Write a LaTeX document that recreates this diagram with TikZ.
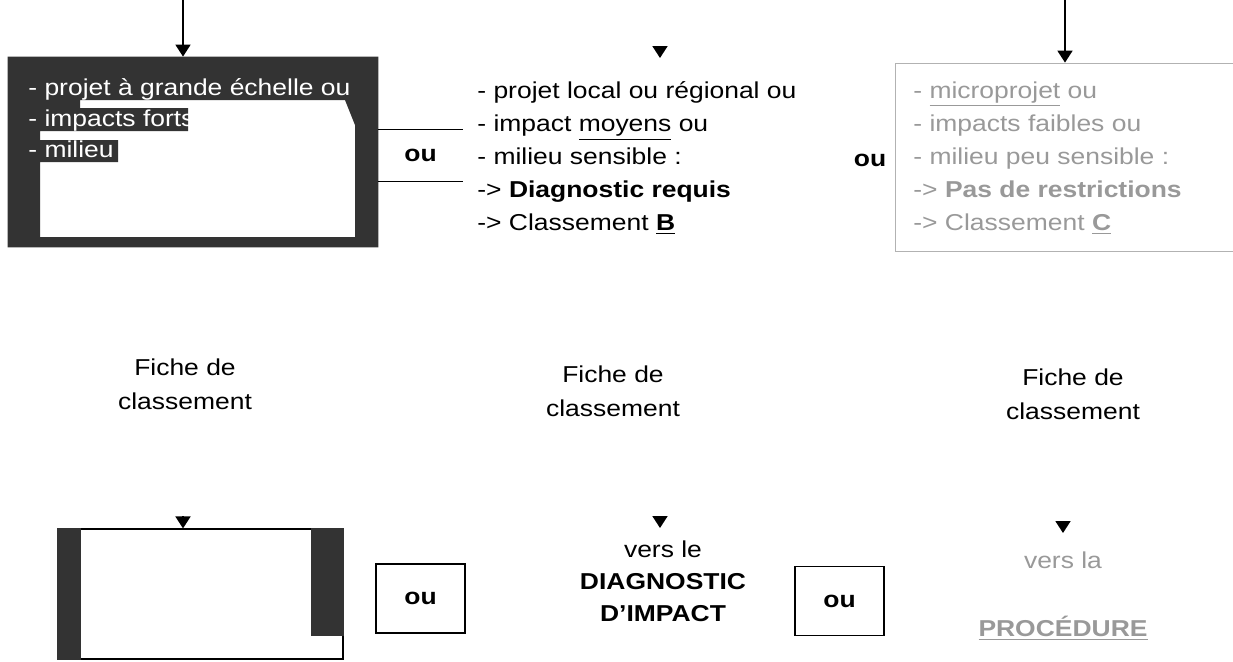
\documentclass[tikz,border=0pt]{standalone}
\usepackage{fontspec}
\setmainfont[FakeStretch=1.15]{Liberation Sans}
\usetikzlibrary{arrows.meta}

\tikzset{
  txt/.style={inner sep=0pt, align=left, font=\fontsize{11.5}{16.5}\selectfont},
  ctxt/.style={inner sep=0pt, align=center, font=\fontsize{11.5}{17}\selectfont},
  faded/.style={text=black!40},
  oubox/.style={draw, line width=0.6pt, inner sep=0pt, minimum width=44.5pt,
    minimum height=34.5pt, font=\bfseries\fontsize{11.5}{14}\selectfont},
  arr/.style={line width=0.9pt, -{Triangle[length=6pt,width=7.5pt]}},
}

\begin{document}
\begin{tikzpicture}[x=0.5pt,y=-0.5pt]
\useasboundingbox (0,0) rectangle (1233,661);

% rangee du haut
\node (boxA) [inner sep=0pt, minimum width=185pt, minimum height=95pt] at (193,152) {};
\fill[black!80, even odd rule] (boxA.north west) rectangle (boxA.south east)
  (80,100) -- (345,100) -- (355,125) -- (355,237) -- (40,237) -- (40,162)
  -- (118,162) -- (118,140) -- (40,140) -- (40,131) -- (188,131) -- (188,108)
  -- (80,108) -- cycle;
\node[txt, text=white, anchor=north west, font=\fontsize{11.5}{15.5}\selectfont] (critA) at (28,78)
  {- projet à grande échelle ou\\- impacts forts ou\\- milieu fragile :};
\coordinate (inA) at (183,0);
\draw[arr] (inA) -- (inA |- boxA.north);

\node (ouA) [inner sep=0pt, minimum width=42.5pt, minimum height=25.5pt,
  font=\bfseries\fontsize{11.5}{14}\selectfont] at (420.5,155.5) {ou};
\draw[line width=0.6pt] (ouA.north west) -- (ouA.north east)
  (ouA.south west) -- (ouA.south east);

\coordinate (inB) at (660,46);
\coordinate (tipB) at (660,58);
\draw[arr] (inB) -- (tipB);
\node[txt, anchor=north west] (critB) at (477,81)
  {- projet local ou régional ou\\- impact \underline{moyens} ou\\- milieu sensible :\\
   -> \textbf{Diagnostic requis}\\-> Classement \textbf{\underline{B}}};

\node (ouB) [font=\bfseries\fontsize{11.5}{14}\selectfont] at (870,160) {ou};

\node (boxC) [draw=black!30, inner sep=0pt, minimum width=175pt, minimum height=94pt] at (1070,157) {};
\coordinate (inC) at (1065,0);
\draw[arr] (inC) -- (inC |- boxC.north);
\node[txt, faded, anchor=north west] (critC) at (913,81)
  {- \underline{microprojet} ou\\- impacts faibles ou\\- milieu peu sensible :\\
   -> \textbf{Pas de restrictions}\\-> Classement \textbf{\underline{C}}};

% fiches
\node[ctxt, anchor=north] (ficheA) at (185,358) {Fiche de\\classement};
\node[ctxt, anchor=north] (ficheB) at (613,365) {Fiche de\\classement};
\node[ctxt, anchor=north] (ficheC) at (1073,368) {Fiche de\\classement};

% rangee du bas
\node (boxD) [draw, line width=0.6pt, inner sep=0pt, minimum width=142.5pt, minimum height=65pt] at (200.5,594) {};
\fill[black!80] (boxD.north west) rectangle ([xshift=12pt]boxD.south west);
\fill[black!80] ([xshift=-16.5pt]boxD.north east) rectangle ([yshift=12pt]boxD.south east);
\coordinate (inD) at (183,516);
\draw[arr] (inD) -- (inD |- boxD.north);

\node[oubox] (ouC) at (420.5,598.5) {ou};

\coordinate (inE) at (660,516);
\coordinate (tipE) at (660,528);
\draw[arr] (inE) -- (tipE);
\node[ctxt, anchor=north, font=\fontsize{11.5}{16}\selectfont] (diag) at (663,540)
  {vers le\\\textbf{DIAGNOSTIC}\\\textbf{D'IMPACT}};

\node[oubox] (ouD) at (839.5,601) {ou};

\coordinate (inF) at (1063,521);
\coordinate (tipF) at (1063,533);
\draw[arr] (inF) -- (tipF);
\node[ctxt, faded, anchor=north, font=\fontsize{11.5}{17}\selectfont] (proc) at (1063,551)
  {vers la\\\mbox{}\\\textbf{\underline{PROCÉDURE}}};
\end{tikzpicture}
\end{document}
